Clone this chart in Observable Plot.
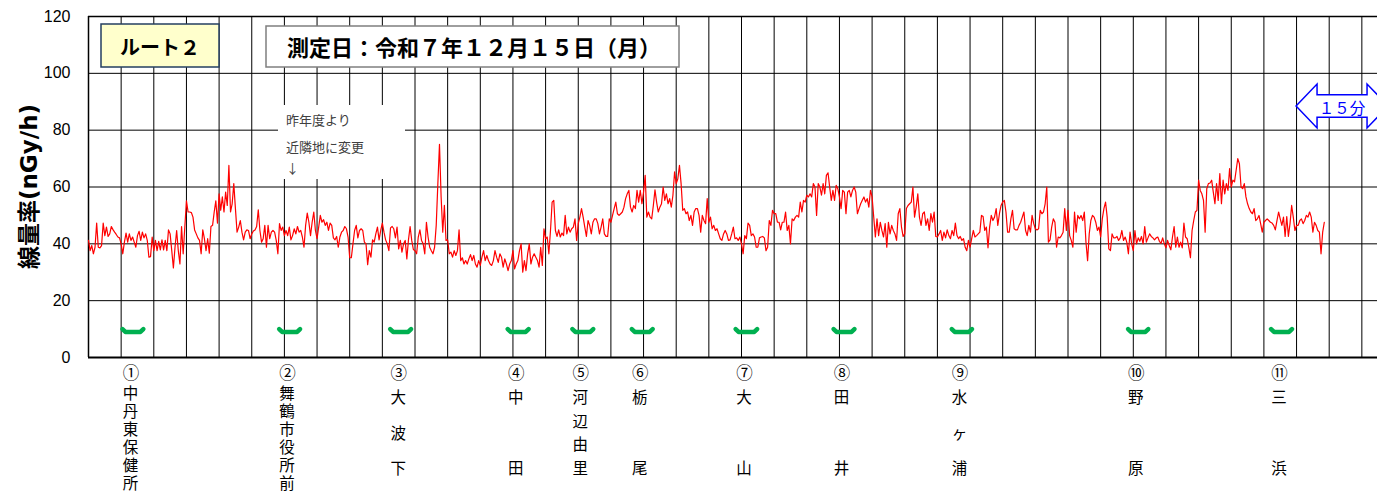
<!DOCTYPE html>
<html><head><meta charset="utf-8">
<script src="https://cdn.jsdelivr.net/npm/d3@7"></script>
<script src="https://cdn.jsdelivr.net/npm/@observablehq/plot@0.6"></script>
<style>
html,body{margin:0;padding:0;background:#fff;overflow:hidden;width:1377px;height:494px;}
#chart{position:relative;width:1377px;height:494px;overflow:hidden;}
#chart svg{display:block;max-width:none !important;width:1394px !important;height:494px !important;}
</style></head><body><div id="chart"></div>
<script>
// ---- data ----
const sampleMinutes = 0.25; // one reading every 15 s
const doseRate = [
41.2,37.6,39.4,36.5,38.8,47.3,38.8,38.6,39.4,47.3,42.9,45.9,42.6,43.5,46.1,45,44.1,43.3,42.4,42.1,
40,36.5,40.6,43.8,40.6,43.5,41.2,42.4,40.6,38.8,42.9,44.4,41.2,44.1,42.1,43.5,41.2,35.3,35.5,42.4,
37.6,41.2,37.6,40.9,37.9,41.4,37.9,41.2,37.6,44.9,43.5,37.6,31.5,38.8,44.7,37.6,32.9,46.1,36.5,45.9,
55.1,51.2,51.2,51,49.4,44.9,43.5,42.1,41.2,36.5,44.9,41.8,37.6,41.8,36.7,46.1,46.5,51.2,55.1,47.3,
57.6,51.8,56.5,51.2,58.2,53.5,67.6,51.2,54.1,61.2,52.4,44.1,45.9,48.2,44.1,41.4,44.1,44.9,44.7,41.8,
43.5,44.5,44.9,46.1,52,44.7,40.6,41.8,46.5,38.8,46.5,41.8,44.1,44.7,44.1,41.2,36.5,47.1,44.7,45.9,
42.9,44.7,42.9,45.9,41.4,42.9,45.3,43.5,46.1,44.1,44.7,42.4,38.8,46.5,50.8,47.6,42.9,47.6,51.2,44.7,
41.8,45.9,50,47.6,48.5,46.5,47.6,44.7,47.3,46.5,42.1,41.4,42.6,38.8,42.4,44.1,44.7,46.1,45.3,42.4,
35.1,35.1,40,44.7,46.5,42.1,44.7,45.3,44.7,40.6,40,32.7,37.6,35.3,41.4,40.6,43.5,45.9,41.4,44.7,
47.3,44.1,41.4,40,37.6,45.6,46.1,45.3,42.1,45.9,38.2,41.2,37.1,40,41.2,34.7,41.4,46.1,41.2,38,
37.6,36.5,42.4,44.9,41.2,40,36.5,47.6,42.4,38.8,37.6,36.5,38.8,46.5,61.2,75,56.5,44.1,53.5,41.2,
41.4,36.5,37.1,35.3,37.6,35.9,37.6,44.9,34.1,35.1,32.9,34.1,32.9,34.7,36.2,34.1,35.9,32.9,31.8,34.1,
32.4,35.3,37.6,34.1,35.9,34.1,32.9,32.4,34.1,37.6,35.3,33.5,36.5,35.3,31.8,34.7,32.9,30.6,32.9,34.1,
37.6,31.2,32.9,34.1,37.6,40,30,34.1,30.6,36.5,40,32.9,35.3,36.5,35.3,34.1,31.8,38.8,32.4,45.3,
41.8,42.4,36.5,44.7,54.7,55.3,44.7,42.6,44.9,42.4,43.8,42.9,50,43.5,45.9,44.1,45.3,45.9,48.8,41.2,
47.1,49.4,52.4,49.4,45.9,42.6,48.2,46.5,43.5,47.6,48.8,48.8,47.1,43.5,45.9,48.8,43.5,42.6,42.6,48.8,
47.6,50,52.4,54.7,50.6,50,50.6,51.2,52.9,55.9,57.6,58.8,52.9,51.2,53.5,52.4,58.8,54.7,58.8,54.1,
58.2,64.1,49.4,51.2,49.4,48.8,53.5,59,54.7,51.2,52.9,54.1,60,55.3,57.6,54.1,55.9,52.9,57.1,65.3,
61.2,62.9,67.6,61.2,51.8,52.4,50.6,51.2,48.2,50,46.5,51.2,52.4,52.4,50,44.1,50,48.2,47.1,55.9,
47.6,49.4,45.3,46.5,44.7,45.3,43.5,41.8,41.2,43.5,44.7,43.5,41.2,41.4,43.5,45.9,41.8,42.1,41.2,42.4,
40,36.5,42.9,41.8,47.3,46.5,42.9,43.5,42.4,38.8,38.8,42.1,42.4,42.6,42.1,37.6,38.8,48.2,46.5,51.8,
50.6,50.6,47.6,47.6,44.9,47.6,47.6,51.2,44.7,46.5,40,48.8,48.2,49.4,50,49.4,54.7,51.2,55.3,54.7,
57.1,56.5,57.6,56.5,61.2,60,50,61.2,60,57.1,61.2,57.6,64.1,65,60,55.3,58.8,55.3,60.6,59.4,
56.5,52.4,58.8,58.2,50.6,58.2,58.8,56.5,58.8,60,58.2,50.6,52.4,54.1,55.3,56.5,54.7,55.9,52.9,58.8,
56.5,49.4,42.4,48.8,42.9,47.6,44.7,42.4,47.1,38.8,47.6,43.5,46.5,44.7,43.5,41.2,50.6,52.4,45.9,42.6,
43.5,52.4,53.5,54.1,54.7,60,49.4,52.9,57.6,49.4,46.5,50.6,51.2,46.5,48.8,44.7,50.6,47.6,51.2,42.6,
42.4,43.5,44.7,41.2,44.1,42.1,44.9,42.9,41.8,44.7,42.9,47.3,42.9,41.8,42.6,41.2,41.8,38.8,37.6,41.2,
38.8,41.8,44.7,42.4,42.9,43.5,44.1,50,49.6,44.7,45.9,38.6,45.9,50,48.2,49.4,52.4,46.5,50.6,53.5,
54.7,55.3,51.2,44.1,44.1,48.8,51.8,45.3,44.9,44.9,46.5,47.6,49.4,51.2,44.7,42.9,46.5,44.1,50,47.1,
45.3,44.9,45.3,51.8,50.6,51.2,54.1,60,40.6,41.4,45.9,48.8,47.6,38.8,42.4,42.1,42.9,44.1,52.4,44.7,
51.8,42.9,41.2,38.8,51.2,44.1,50,48.8,50,48.2,51.2,40.6,34.1,43.5,48.2,50,49.4,47.6,44.7,45.9,
42.4,48.8,52.4,54.7,49.4,38.2,37.6,43.5,42.1,42.1,42.6,41.2,42.1,44.7,41.2,42.4,40.6,36.5,44.1,40,
37.6,44.7,40,42.1,40.9,42.6,40,46.1,40.6,42.1,43.5,42.6,42.1,41.4,42.1,42.4,40.9,40.2,42.1,40,
38.6,41.2,39.4,37.9,42.4,46.1,38.8,42.4,38.8,40.6,38.6,47.3,42.4,41.8,38.8,35.1,44.7,48.2,51.2,51.8,
62.4,58.8,57.6,55.3,44.1,59.4,61.2,61.4,62.4,58.2,54.1,61.2,55.3,64.7,54.1,62.4,57.6,61.2,58.8,66.5,
60,62.4,61.8,65.9,70,68.2,60,59.4,61.2,56.5,54.1,52.4,51.2,50.6,52.4,48.2,48.8,50,47.1,44.1,
47.6,48.2,48.8,48.2,47.6,47.3,46.5,44.9,48.2,51.2,48.8,46.5,49.4,42.6,49.6,42.6,47.1,53.5,49.4,44.7,
46.5,46.5,48.2,48.8,47.1,48.2,50,49.4,51.2,49.4,44.1,47.6,46.5,44.7,44.1,36.5,44.1,47.6
];
const stationNo = ["①","②","③","④","⑤","⑥","⑦","⑧","⑨","⑩","⑪"];
const stationName = ["中丹東保健所","舞鶴市役所前","大波下","中田","河辺由里","栃尾","大山","田井","水ヶ浦","野原","三浜"];
const stopStart = [5.2,29.2,46.2,64.2,74.1,83.2,99.1,114.1,132.2,159.2,181.1];
const stopEnd   = [8.4,32.4,49.4,67.4,77.3,86.4,102.4,117.3,135.3,162.3,184.3];
const yTicks = [0,20,40,60,80,100,120];
const xDomain = [0,200];
const gridStep = 5;
const yLabel = "線量率(nGy/h)";
const routeLabel = "ルート２";
const dateLabel = "測定日：令和７年１２月１５日（月）";
const noteLines = ["昨年度より","近隣地に変更","↓"];
const spanLabel = "１５分";
const spanStart = 185;

// ---- derived tables ----
const series = doseRate.map((v,i)=>({t:i*sampleMinutes, v}));
const stations = stationNo.map((no,i)=>({no, name:stationName[i], t0:stopStart[i], t1:stopEnd[i], mid:(stopStart[i]+stopEnd[i])/2}));
const bracketPts = stations.flatMap((s,k)=>[
  {k,t:s.t0,v:10.0},{k,t:s.t0+0.45,v:9.0},{k,t:s.t1-0.45,v:9.0},{k,t:s.t1,v:10.0}]);
const gridMinutes = d3.range(xDomain[0]+gridStep, xDomain[1]+1, gridStep);

const CJK = "'Noto Sans CJK JP', sans-serif";

function frameScales(scales, dims){
  const ml = dims.marginLeft, mt = dims.marginTop;
  const W = dims.width - dims.marginLeft - dims.marginRight;
  const H = dims.height - dims.marginTop - dims.marginBottom;
  const x = (scales && typeof scales.x === "function") ? scales.x
    : t => ml + (t - xDomain[0])/(xDomain[1]-xDomain[0])*W;
  const y = (scales && typeof scales.y === "function") ? scales.y
    : v => mt + H - v/120*H;
  return {ml, mt, W, H, x, y};
}

function overlay(index, scales, values, dims){
  const {ml, mt, H, x} = frameScales(scales, dims);
  const g = d3.create("svg:g").attr("text-anchor","start");
  // route box
  g.append("rect").attr("x",ml+13).attr("y",mt+8).attr("width",118).attr("height",43)
    .attr("fill","#ffffcc").attr("stroke","#243f60").attr("stroke-width",1.5);
  g.append("text").attr("x",ml+72).attr("y",mt+30).attr("text-anchor","middle").attr("dominant-baseline","central")
    .attr("font-family",CJK).attr("font-weight","bold").attr("font-size",20).attr("fill","#000").text(routeLabel);
  // date box
  g.append("rect").attr("x",ml+178).attr("y",mt+10).attr("width",413).attr("height",41)
    .attr("fill","#fff").attr("stroke","#7f7f7f").attr("stroke-width",1.5);
  g.append("text").attr("x",ml+386).attr("y",mt+30).attr("text-anchor","middle").attr("dominant-baseline","central")
    .attr("font-family",CJK).attr("font-weight","bold").attr("font-size",22).attr("fill","#000").text(dateLabel);
  // note box
  g.append("rect").attr("x",ml+190).attr("y",mt+89).attr("width",127).attr("height",74).attr("fill","#fff");
  noteLines.forEach((s,i)=>{
    g.append("text").attr("x",ml+198).attr("y",mt+[103,130,151][i]).attr("dominant-baseline","central")
      .attr("text-anchor","start")
      .attr("font-family",CJK).attr("font-size",13).attr("fill","#404040").text(s);
  });
  // 15-min arrow
  const x0 = x(spanStart), len = 92, cy = mt+90, hh = 22, sh = 11.2, hl = 21;
  const pts = [[x0,cy],[x0+hl,cy-hh],[x0+hl,cy-sh],[x0+len-hl,cy-sh],[x0+len-hl,cy-hh],[x0+len,cy],
               [x0+len-hl,cy+hh],[x0+len-hl,cy+sh],[x0+hl,cy+sh],[x0+hl,cy+hh]];
  g.append("polygon").attr("points",pts.map(p=>p.join(",")).join(" "))
    .attr("fill","#fff").attr("stroke","#0000ff").attr("stroke-width",1.5);
  g.append("text").attr("x",x0+len/2).attr("y",cy+1).attr("text-anchor","middle").attr("dominant-baseline","central")
    .attr("font-family",CJK).attr("font-size",15.5).attr("fill","#0000ff").text(spanLabel);
  // y-axis title
  g.append("text").attr("transform",`translate(${ml-59},${mt+H/2}) rotate(-90)`)
    .attr("text-anchor","middle").attr("dominant-baseline","central")
    .attr("font-family","'DejaVu Sans', 'Noto Sans CJK JP', sans-serif").attr("font-weight","bold")
    .attr("font-size",23).attr("fill","#000").text(yLabel);
  return g.node();
}

// station names: vertical, positioned with the plot's scales
const fs = 15.5;
function stationNames(index, scales, values, dims){
  const {x, y} = frameScales(scales, dims);
  const g = d3.create("svg:g");
  const y0 = y(0);
  stations.forEach(s=>{
    const chars = Array.from(s.name);
    const n = chars.length;
    const cx = x(s.mid) - 2;
    if (n >= 6) {
      // tightly set: one vertical text run
      g.append("text")
        .attr("x", cx).attr("y", y0 + 36 - fs/2)
        .attr("text-anchor","start")
        .style("writing-mode","vertical-rl")
        .style("text-orientation","upright")
        .attr("letter-spacing", 18 - fs)
        .attr("font-family",CJK).attr("font-size",fs).attr("fill","#000")
        .text(s.name);
    } else {
      // distributed: characters spread over the label column
      const step = 71/(n-1);
      chars.forEach((c,i)=>{
        g.append("text")
          .attr("x", cx).attr("y", y0 + 39 + i*step)
          .attr("text-anchor","middle").attr("dominant-baseline","central")
          .attr("font-family",CJK).attr("font-size",fs).attr("fill","#000")
          .text(c);
      });
    }
  });
  return g.node();
}

const chart = Plot.plot({
  width: 1394, height: 494,
  marginLeft: 88, marginRight: 0, marginTop: 16, marginBottom: 137,
  style: {fontFamily:"'Liberation Sans', Arial, sans-serif", fontSize:"16px", color:"#000", background:"#fff", overflow:"visible", maxWidth:"none"},
  x: {domain: xDomain, axis: null},
  y: {domain: [0,120], ticks: yTicks, tickSize: 0, tickPadding: 18, label: null},
  marks: [
    Plot.ruleY(yTicks.filter(d=>d>0 && d<120), {stroke:"#000", strokeWidth:1}),
    Plot.ruleX(gridMinutes, {stroke:"#000", strokeWidth:1}),
    Plot.ruleY([120], {stroke:"#000", strokeWidth:1.5}),
    Plot.ruleX([0], {stroke:"#000", strokeWidth:1.5}),
    overlay,
    Plot.line(series, {x:"t", y:"v", stroke:"#ff0000", strokeWidth:1.2}),
    Plot.line(bracketPts, {x:"t", y:"v", z:"k", stroke:"#00b050", strokeWidth:4.5, strokeLinecap:"round", strokeLinejoin:"round"}),
    Plot.ruleY([0], {stroke:"#000", strokeWidth:2.2}),
    Plot.text(stations, {x:"mid", y:0, text:"no", dy:16, dx:-2, fontSize:16.5, fontFamily:CJK, fill:"#000"}),
    stationNames
  ]
});
document.getElementById("chart").appendChild(chart);
</script></body></html>
